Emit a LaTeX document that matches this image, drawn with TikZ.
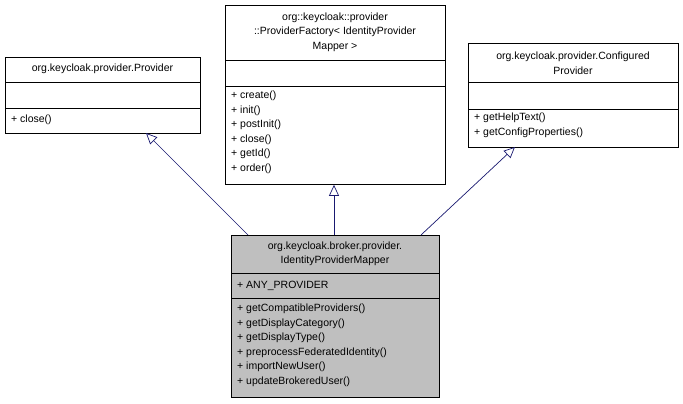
\documentclass[tikz,border=0pt]{standalone}
\usepackage{fontspec}
\setmainfont{Liberation Sans}
\usetikzlibrary{arrows.meta}
\begin{document}
\begin{tikzpicture}[x=1pt,y=-1pt,
    classbox/.style={draw=black,line width=0.8pt,anchor=north west,inner sep=0pt},
    member/.style={anchor=west,inner sep=0pt,font=\fontsize{10.5}{14.5}\selectfont},
    title/.style={align=center,inner sep=0pt,font=\fontsize{10.5}{14.5}\selectfont},
    inherit/.style={draw={rgb,255:red,25;green,25;blue,112},line width=0.7pt,
      -{Triangle[open,length=11pt,width=10pt]}}]
		\useasboundingbox (0,0) rectangle (683,404);

		% Provider
		\node[classbox,minimum width=195pt,minimum height=76pt] (prov) at (5,57) {};
		\draw (5,82) -- (200,82);
		\draw (5,108) -- (200,108);
		\node[title] (provtitle) at (102.5,69) {org.keycloak.provider.Provider};
		\node[member] (provclose) at (11,120) {+ close()};

		% ProviderFactory
		\node[classbox,minimum width=220pt,minimum height=179pt] (fact) at (225,5) {};
		\draw (225,60) -- (445,60);
		\draw (225,86) -- (445,86);
		\node[title] (facttitle) at (335,32) {org::keycloak::provider\\::ProviderFactory< IdentityProvider\\Mapper >};
		\node[member,align=left,anchor=north west] (factops) at (231,91) {+ create()\\+ init()\\+ postInit()\\+ close()\\+ getId()\\+ order()};

		% ConfiguredProvider
		\node[classbox,minimum width=210pt,minimum height=104pt] (conf) at (468,43) {};
		\draw (468,82) -- (678,82);
		\draw (468,109) -- (678,109);
		\node[title] (conftitle) at (573,63) {org.keycloak.provider.Configured\\Provider};
		\node[member,align=left,anchor=north west] (confops) at (474,113) {+ getHelpText()\\+ getConfigProperties()};

		% IdentityProviderMapper
		\node[classbox,fill={rgb,255:red,191;green,191;blue,191},minimum width=208pt,minimum height=162pt] (mapper) at (231,235) {};
		\draw (231,273) -- (439,273);
		\draw (231,298) -- (439,298);
		\node[title] (mappertitle) at (335,254) {org.keycloak.broker.provider.\\IdentityProviderMapper};
		\node[member] (mapperattr) at (237,286) {+ ANY\_PROVIDER};
		\node[member,align=left,anchor=north west] (mapperops) at (237,304) {+ getCompatibleProviders()\\+ getDisplayCategory()\\+ getDisplayType()\\+ preprocessFederatedIdentity()\\+ importNewUser()\\+ updateBrokeredUser()};

		% Inheritance
		\coordinate (m1) at (248,235);
		\coordinate (m2) at (334,235);
		\coordinate (m3) at (421,235);
		\draw[inherit] (m1) -- (146,133);
		\draw[inherit] (m2) -- (fact.south -| m2);
		\draw[inherit] (m3) -- (515,147);
	\end{tikzpicture}
\end{document}
